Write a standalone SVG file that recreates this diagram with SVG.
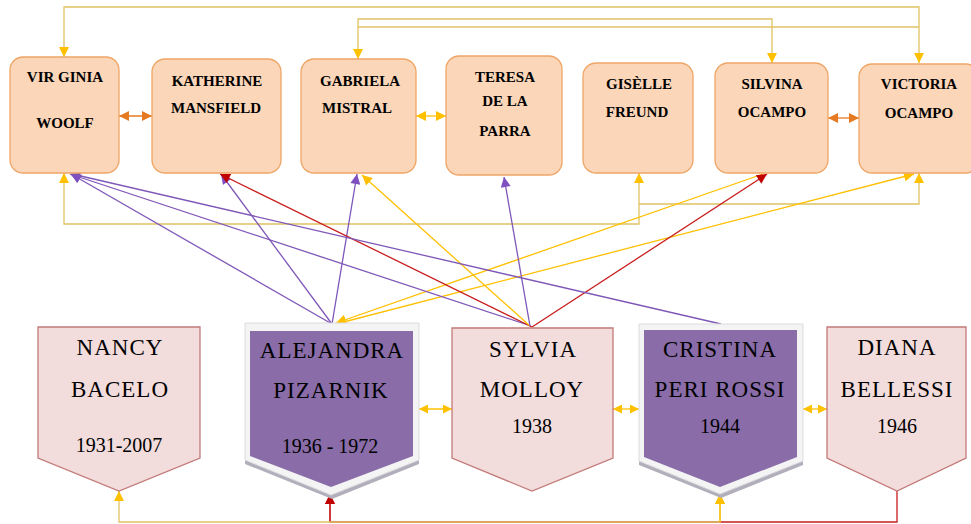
<svg xmlns="http://www.w3.org/2000/svg" width="971" height="524" viewBox="0 0 971 524">
<style>
.top rect{fill:#FBD6B8;stroke:#EFA565;stroke-width:1.3}
.top text{font-family:"Liberation Serif",serif;font-weight:bold;font-size:15px;fill:#000;text-anchor:middle}
.pink polygon{fill:#F2DCDC;stroke:#C27A78;stroke-width:1.3}
.purp .sh{fill:#B2AEBB}
.purp .bd{fill:#F4F4F5;stroke:#DCDCDF;stroke-width:1}
.purp .in{fill:#896CA8}
.bot text{font-family:"Liberation Serif",serif;font-size:23px;letter-spacing:1px;fill:#000;text-anchor:middle}
.bot text.yr{font-size:20px;letter-spacing:0}
#connectors path{fill:none;stroke-width:1.3}
.gold{stroke:#E0C262}
.yel{stroke:#FFC000}
.ora{stroke:#E67A22}
.pur{stroke:#7F57B8}
.red{stroke:#C81E1E}
</style>
<defs>
<marker id="aY" viewBox="0 0 10 10" refX="10" refY="5" markerUnits="userSpaceOnUse" markerWidth="11" markerHeight="10" orient="auto-start-reverse"><path d="M0,0L10,5L0,10z" fill="#FFC000"/></marker>
<marker id="aO" viewBox="0 0 10 10" refX="10" refY="5" markerUnits="userSpaceOnUse" markerWidth="11" markerHeight="10" orient="auto-start-reverse"><path d="M0,0L10,5L0,10z" fill="#E67A22"/></marker>
<marker id="aP" viewBox="0 0 10 10" refX="10" refY="5" markerUnits="userSpaceOnUse" markerWidth="11" markerHeight="10" orient="auto-start-reverse"><path d="M0,0L10,5L0,10z" fill="#7F4FC0"/></marker>
<marker id="aR" viewBox="0 0 10 10" refX="10" refY="5" markerUnits="userSpaceOnUse" markerWidth="11" markerHeight="10" orient="auto-start-reverse"><path d="M0,0L10,5L0,10z" fill="#C00000"/></marker>
<marker id="aYs" viewBox="0 0 10 10" refX="10" refY="5" markerUnits="userSpaceOnUse" markerWidth="9" markerHeight="9" orient="auto-start-reverse"><path d="M0,0L10,5L0,10z" fill="#FFC000"/></marker>
</defs>

<g id="connectors">
<path class="gold" d="M64,57V7H919V63" marker-start="url(#aY)" marker-end="url(#aY)"/>
<path class="gold" d="M358,59V19H772V63" marker-start="url(#aY)" marker-end="url(#aY)"/>
<path class="gold" d="M358,27H919"/>
<path class="gold" d="M64,173V224H639V173" marker-start="url(#aY)" marker-end="url(#aY)"/>
<path class="gold" d="M639,204H919V173" marker-end="url(#aY)"/>
<path class="ora" d="M119,116H152" marker-start="url(#aO)" marker-end="url(#aO)"/>
<path class="yel" d="M416,116H446" marker-start="url(#aY)" marker-end="url(#aY)"/>
<path class="ora" d="M828,118H859" marker-start="url(#aO)" marker-end="url(#aO)"/>
<path d="M847,116L857,108L859,117z" fill="#000" stroke="none"/>
<path class="pur" d="M332,324L71,174" marker-end="url(#aP)"/>
<path class="pur" d="M332,324L221,174" marker-end="url(#aP)"/>
<path class="pur" d="M332,324L357,174" marker-end="url(#aP)"/>
<path class="yel" d="M763,174L336,323" marker-end="url(#aY)"/>
<path class="yel" d="M914,174L336,324" marker-start="url(#aY)" marker-end="url(#aY)"/>
<path class="pur" d="M531,326L70,174" marker-end="url(#aP)"/>
<path class="red" d="M532,327L220,174" marker-end="url(#aR)"/>
<path class="yel" d="M530,326L362,175" marker-end="url(#aY)"/>
<path class="pur" d="M530,326L504,177" marker-end="url(#aP)"/>
<path class="red" d="M532,327L767,174" marker-end="url(#aR)"/>
<path class="pur" d="M721,324L72,174"/>
<path d="M522,317L532,326L521,324z" fill="#000" stroke="none"/>
<path class="yel" d="M419,409H452" marker-start="url(#aYs)" marker-end="url(#aYs)"/>
<path class="yel" d="M613,409H639" marker-start="url(#aYs)" marker-end="url(#aYs)"/>
<path class="yel" d="M803,409H827" marker-start="url(#aYs)" marker-end="url(#aYs)"/>
<path class="red" d="M897,491V522H330V494" stroke="#C87070" marker-end="url(#aR)"/>
<path class="red" d="M330,522V494" marker-end="url(#aR)"/>
<path class="gold" d="M119,491V522H720V494" marker-start="url(#aY)" marker-end="url(#aY)"/>
<path class="yel" d="M720,522V494" marker-end="url(#aY)"/>
</g>

<g id="virginia-woolf" class="top"><rect x="10" y="57" width="109" height="116" rx="13"/><text x="65" y="82">VIR GINIA</text><text x="65" y="128">WOOLF</text></g>
<g id="katherine-mansfield" class="top"><rect x="152" y="59" width="129" height="114" rx="13"/><text x="217" y="86">KATHERINE</text><text x="216" y="113">MANSFIELD</text></g>
<g id="gabriela-mistral" class="top"><rect x="301" y="59" width="115" height="114" rx="13"/><text x="360" y="86">GABRIELA</text><text x="357" y="113">MISTRAL</text></g>
<g id="teresa-de-la-parra" class="top"><rect x="446" y="56" width="116" height="119" rx="13"/><text x="505" y="82">TERESA</text><text x="505" y="106">DE LA</text><text x="505" y="136">PARRA</text></g>
<g id="giselle-freund" class="top"><rect x="583" y="63" width="110" height="110" rx="13"/><text x="639" y="89">GISÈLLE</text><text x="637" y="117">FREUND</text></g>
<g id="silvina-ocampo" class="top"><rect x="715" y="63" width="113" height="110" rx="13"/><text x="772" y="89">SILVINA</text><text x="772" y="117">OCAMPO</text></g>
<g id="victoria-ocampo" class="top"><rect x="859" y="64" width="120" height="109" rx="13"/><text x="919" y="89">VICTORIA</text><text x="919" y="118">OCAMPO</text></g>

<g id="nancy-bacelo" class="bot pink"><polygon points="38,327 200,327 200,458 119,491 38,458"/><text x="120" y="355">NANCY</text><text x="120" y="397">BACELO</text><text class="yr" x="119" y="452">1931-2007</text></g>
<g id="alejandra-pizarnik" class="bot purp"><polygon class="sh" points="245,327 419,327 419,464 332,499 245,464"/><polygon class="bd" points="245,323 419,323 419,460 331,495 245,460"/><polygon class="in" points="250,331 413,331 413,456 331,487 250,456"/><text x="332" y="358">ALEJANDRA</text><text x="331" y="398">PIZARNIK</text><text class="yr" x="330" y="453">1936 - 1972</text></g>
<g id="sylvia-molloy" class="bot pink"><polygon points="452,328 613,328 613,458 532,491 452,458"/><text x="533" y="357">SYLVIA</text><text x="532" y="397">MOLLOY</text><text class="yr" x="532" y="433">1938</text></g>
<g id="cristina-peri-rossi" class="bot purp"><polygon class="sh" points="639,328 803,328 803,465 721,498 639,465"/><polygon class="bd" points="639,324 803,324 803,461 720,494 639,461"/><polygon class="in" points="644,330 797,330 797,457 720,487 644,457"/><text x="720" y="357">CRISTINA</text><text x="720" y="397">PERI ROSSI</text><text class="yr" x="720" y="433">1944</text></g>
<g id="diana-bellessi" class="bot pink"><polygon points="827,327 966,327 966,458 897,491 827,458"/><text x="897" y="355">DIANA</text><text x="897" y="397">BELLESSI</text><text class="yr" x="897" y="433">1946</text></g>
</svg>
